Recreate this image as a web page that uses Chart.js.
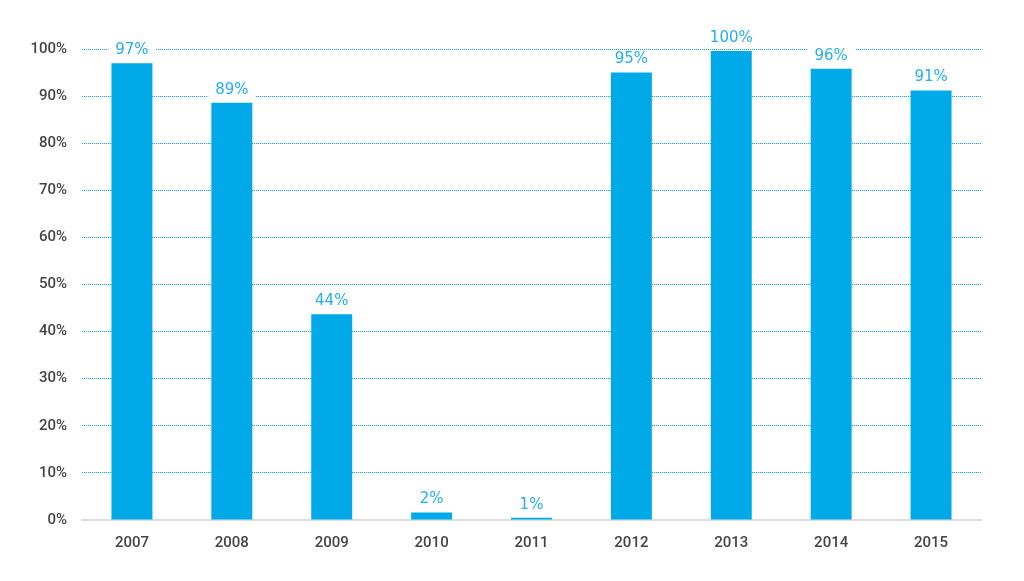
<!DOCTYPE html>
<html>
<head>
<meta charset="utf-8">
<script src="https://cdn.jsdelivr.net/npm/chart.js@4"></script>
<style>
  html, body { margin: 0; padding: 0; background: #fff; }
  #wrap { width: 1024px; height: 581px; }
</style>
</head>
<body>
<div id="wrap"><canvas id="barChart" width="1024" height="581"></canvas></div>
<script>
// Share of years per category (percent)
const years = ['2007', '2008', '2009', '2010', '2011', '2012', '2013', '2014', '2015'];
const values = [97, 88.6, 43.7, 1.6, 0.5, 95, 99.6, 95.8, 91.2];
const valueLabels = ['97%', '89%', '44%', '2%', '1%', '95%', '100%', '96%', '91%'];

const blue = '#00a9e8';

// draws value labels above bars, with a white box so the dotted grid is cut
const barLabels = {
  id: 'barLabels',
  afterDatasetsDraw(chart) {
    const ctx = chart.ctx;
    const meta = chart.getDatasetMeta(0);
    ctx.save();
    ctx.font = '500 15px "DejaVu Sans"';
    ctx.textAlign = 'center';
    ctx.textBaseline = 'middle';
    meta.data.forEach(function(bar, i) {
      const txt = valueLabels[i];
      const y = bar.y - 13;
      const w = ctx.measureText(txt).width + 14;
      ctx.fillStyle = '#fff';
      ctx.fillRect(bar.x - w / 2, y - 8, w, 16);
      ctx.fillStyle = '#22aef0';
      ctx.fillText(txt, bar.x, y);
    });
    ctx.restore();
  }
};

new Chart(document.getElementById('barChart'), {
  type: 'bar',
  data: {
    labels: years,
    datasets: [{
      data: values,
      backgroundColor: blue,
      borderWidth: 0,
      categoryPercentage: 1,
      barPercentage: 0.41
    }]
  },
  options: {
    responsive: false,
    animation: false,
    layout: { padding: { top: 49, right: 43, left: 0, bottom: 0 } },
    plugins: {
      legend: { display: false },
      tooltip: { enabled: false }
    },
    scales: {
      x: {
        grid: { display: false, drawTicks: false },
        border: { display: true, color: '#dddddd', width: 2 },
        ticks: {
          color: '#444',
          padding: 14,
          font: { family: 'Roboto', size: 15, weight: '500' }
        },
        afterFit: function(scale) { scale.height = 61; }
      },
      y: {
        min: 0,
        max: 100,
        grid: {
          color: function(c) { return c.tick.value === 0 ? 'rgba(0,0,0,0)' : '#00a6ec'; },
          lineWidth: 1,
          drawTicks: false
        },
        border: { display: false, dash: [1, 1] },
        ticks: {
          stepSize: 10,
          color: '#444',
          padding: 15,
          font: { family: 'Roboto', size: 15, weight: '500' },
          callback: function(v) { return v + '%'; }
        },
        afterFit: function(scale) { scale.width = 82; }
      }
    }
  },
  plugins: [barLabels]
});
</script>
</body>
</html>
